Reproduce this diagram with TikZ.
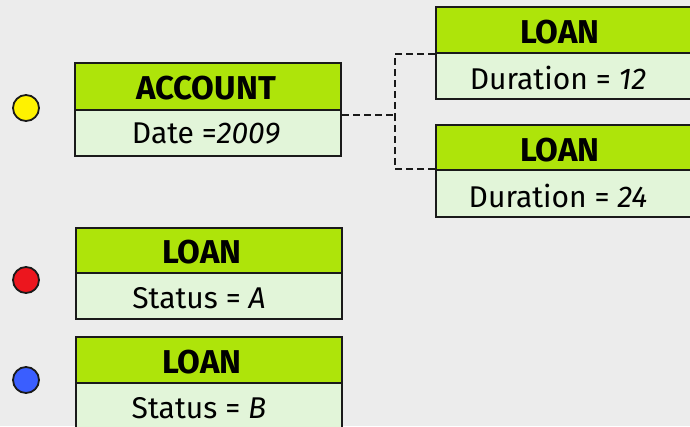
\documentclass[tikz,border=0pt]{standalone}
\usepackage{fontspec}
\setmainfont{Fira Sans}
\definecolor{bg}{HTML}{ECECEC}
\definecolor{hdr}{HTML}{AEE40A}
\definecolor{bdy}{HTML}{E2F5D9}
\definecolor{edge}{HTML}{1A1A1A}
\begin{document}
\begin{tikzpicture}[x=1pt,y=-1pt,
  hdrbox/.style={draw=edge,line width=2pt,fill=hdr,minimum width=266pt,inner sep=0pt},
  bdybox/.style={draw=edge,line width=2pt,fill=bdy,minimum width=266pt,inner sep=0pt},
  hdrtxt/.style={font=\fontsize{33}{34}\selectfont\bfseries,inner sep=0pt},
  bdytxt/.style={font=\fontsize{30}{32}\selectfont,inner sep=0pt},
  dot/.style={circle,draw=edge,line width=1.8pt,minimum size=26pt,inner sep=0pt},
  link/.style={dashed,dash pattern=on 7pt off 4pt,line width=2.2pt,draw=edge}]
\clip (0,0) rectangle (690,426);
\fill[bg] (0,0) rectangle (690,426);
\useasboundingbox (0,0) rectangle (690,426);
% status dots
\node[dot,fill=yellow] (dy) at (26,108) {};
\node[dot,fill={rgb,255:red,236;green,22;blue,30}] (dr) at (26,280) {};
\node[dot,fill={rgb,255:red,58;green,94;blue,255}] (db) at (26,380) {};
% ACCOUNT
\node[hdrbox,minimum height=47pt] (acch) at (208,86.5) {};
\node[bdybox,minimum height=46pt] (accb) at (208,133) {};
\node[hdrtxt] (accht) at (206,88) {ACCOUNT};
\node[bdytxt] (accbt) at (206,134) {Date =\textit{2009}};
% LOAN right 1
\node[hdrbox,minimum height=46pt] (l1h) at (569,30) {};
\node[bdybox,minimum height=46pt] (l1b) at (569,76) {};
\node[hdrtxt] (l1ht) at (560,32) {LOAN};
\node[bdytxt] (l1bt) at (558,78) {Duration = \textit{12}};
% LOAN right 2
\node[hdrbox,minimum height=45pt] (l2h) at (569,147.5) {};
\node[bdybox,minimum height=47pt] (l2b) at (569,193.5) {};
\node[hdrtxt] (l2ht) at (560,150) {LOAN};
\node[bdytxt] (l2bt) at (558,196) {Duration = \textit{24}};
% LOAN status A
\node[hdrbox,minimum height=45pt] (l3h) at (209,250.5) {};
\node[bdybox,minimum height=46pt] (l3b) at (209,296) {};
\node[hdrtxt] (l3ht) at (202,252) {LOAN};
\node[bdytxt] (l3bt) at (199,298) {Status = \textit{A}};
% LOAN status B
\node[hdrbox,minimum height=46pt] (l4h) at (209,360) {};
\node[bdybox,minimum height=46pt] (l4b) at (209,406) {};
\node[hdrtxt] (l4ht) at (202,362) {LOAN};
\node[bdytxt] (l4bt) at (199,408) {Status = \textit{B}};
% dashed connectors
\coordinate (jx) at (395,115);
\draw[link] (accb.east |- jx) -- (jx);
\draw[link] (l1h.south west) -| (jx);
\draw[link] (l2b.north west) -| (jx);
\end{tikzpicture}
\end{document}
